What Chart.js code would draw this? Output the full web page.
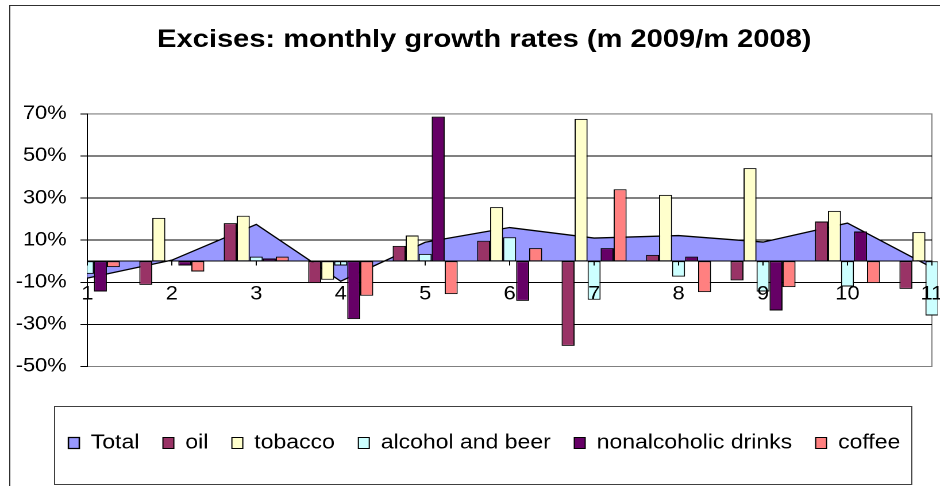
<!DOCTYPE html>
<html>
<head>
<meta charset="utf-8">
<script src="https://cdn.jsdelivr.net/npm/chart.js@4.4.1/dist/chart.umd.min.js"></script>
<style>
  html, body { margin: 0; padding: 0; background: #fff; overflow: hidden; }
  /* the original picture is stretched sideways, so the chart is too */
  #wrap { width: 818px; height: 486px; transform: scaleX(1.1491); transform-origin: 0 0; }
</style>
</head>
<body>
<div id="wrap"><canvas id="excChart"></canvas></div>
<script>
// --- DATA ---
const months = ['1', '2', '3', '4', '5', '6', '7', '8', '9', '10', '11'];
const total = [-8, 0.5, 17.5, -9.5, 9, 16, 11, 12.2, 9.1, 18.1, -3];
const oil = [null, -11.2, 18.1, -10.4, 7.3, 9.7, -40.2, 3.0, -9.1, 18.9, -13.1];
const tobacco = [null, 20.6, 21.6, -8.8, 12.2, 25.7, 67.6, 31.5, 44.2, 23.9, 13.8];
const alcohol = [-6, 0.4, 2.2, -2, 3.5, 11.4, -18.3, -7.3, -14.4, -12, -25.8];
const nonalcoholic = [-14.4, -2.0, 1.3, -27.5, 68.7, -18.8, 6.2, 2.2, -23.4, 14.1, null];
const coffee = [-2.8, -4.9, 2.2, -16.4, -15.6, 6.2, 34.2, -14.7, -12.3, -10.4, null];
const yMin = -50, yMax = 70, yStep = 20;

Chart.defaults.font.family = "'Liberation Sans', Arial, sans-serif";
Chart.defaults.color = '#000';

// --- FRAMES (plot area, chart border, legend box) ---
const framePlugin = {
    id: 'frames',
    afterLayout(chart) {
        // let the y labels run into the left margin instead of being clipped
        chart.scales.y.left = 0;
    },
    beforeDraw(chart) {
        const { ctx, chartArea: a } = chart;
        ctx.save();
        ctx.strokeStyle = '#808080';
        ctx.lineWidth = 1;
        ctx.strokeRect(a.left, a.top, a.right - a.left, a.bottom - a.top);
        ctx.restore();
    },
    afterDraw(chart) {
        const ctx = chart.ctx;
        ctx.save();
        ctx.lineWidth = 1;
        ctx.strokeStyle = '#303030';
        ctx.strokeRect(8.5, 5.5, chart.width + 20, chart.height + 20);
        const boxes = chart.legend.legendHitBoxes;
        if (boxes && boxes.length) {
            const first = boxes[0], last = boxes[boxes.length - 1];
            const midY = first.top + first.height / 2;
            const left = Math.round(first.left - 13) + 0.5;
            const right = Math.round(last.left + last.width + 10) + 0.5;
            ctx.strokeStyle = '#404040';
            ctx.strokeRect(left, Math.round(midY - 37) + 0.5, right - left, 78);
        }
        ctx.restore();
    }
};

const barStyle = (label, color) => ({
    type: 'bar',
    label: label,
    backgroundColor: color,
    borderColor: '#000',
    borderWidth: 1,
    borderSkipped: false,
    categoryPercentage: 0.77,
    barPercentage: 1,
    clip: { left: 0, top: 0, right: 5, bottom: 0 },
    order: 0
});

const ctx = document.getElementById('excChart').getContext('2d');
const excChart = new Chart(ctx, {
    data: {
        labels: months,
        datasets: [
            {
                type: 'line',
                label: 'Total',
                data: total,
                fill: 'origin',
                backgroundColor: '#9999FF',
                borderColor: '#000',
                borderWidth: 1.3,
                pointRadius: 0,
                tension: 0,
                order: 1
            },
            { ...barStyle('oil', '#993366'), data: oil },
            { ...barStyle('tobacco', '#FFFFCC'), data: tobacco },
            { ...barStyle('alcohol and beer', '#CCFFFF'), data: alcohol },
            { ...barStyle('nonalcoholic drinks', '#660066'), data: nonalcoholic },
            { ...barStyle('coffee', '#FF8080'), data: coffee }
        ]
    },
    options: {
        responsive: true,
        maintainAspectRatio: false,
        devicePixelRatio: 2,
        animation: false,
        layout: { padding: { left: 32, right: 7, top: 0, bottom: 23 } },
        scales: {
            x: {
                type: 'category',
                position: { y: 0 },
                offset: false,
                // axis line, tick marks and labels sit on top of the bars
                grid: { display: true, drawOnChartArea: false, drawTicks: true, tickLength: 4, color: '#000', offset: false, z: 1 },
                border: { display: true, color: '#000', width: 1, z: 1 },
                ticks: { autoSkip: false, maxRotation: 0, padding: 17.5, font: { size: 19 }, color: '#000', z: 1 },
                afterFit: (scale) => { scale.paddingLeft = 0; scale.paddingRight = 0; }
            },
            y: {
                min: yMin,
                max: yMax,
                ticks: {
                    stepSize: yStep,
                    padding: 12,
                    font: { size: 19 },
                    color: '#000',
                    callback: (v) => v + '%'
                },
                grid: {
                    color: (c) => (c.tick && (c.tick.value === yMax || c.tick.value === yMin)) ? '#808080' : '#000',
                    tickColor: '#000',
                    tickLength: 6,
                    lineWidth: 1
                },
                border: { display: true, color: '#000', width: 1 },
                afterFit: (scale) => { scale.width = 44; }
            }
        },
        plugins: {
            title: {
                display: true,
                text: 'Excises: monthly growth rates (m 2009/m 2008)',
                font: { size: 25.3, weight: 'bold' },
                color: '#000',
                padding: { top: 25, bottom: 58.5 }
            },
            legend: {
                position: 'bottom',
                title: { display: true, text: '', font: { size: 10, lineHeight: 1 }, padding: { top: 36, bottom: 0 } },
                labels: {
                    boxWidth: 9.5,
                    boxHeight: 11,
                    padding: 20.5,
                    font: { size: 20 },
                    color: '#000',
                    sort: (a, b) => a.datasetIndex - b.datasetIndex
                }
            },
            tooltip: { enabled: false }
        }
    },
    plugins: [framePlugin]
});
</script>
</body>
</html>
